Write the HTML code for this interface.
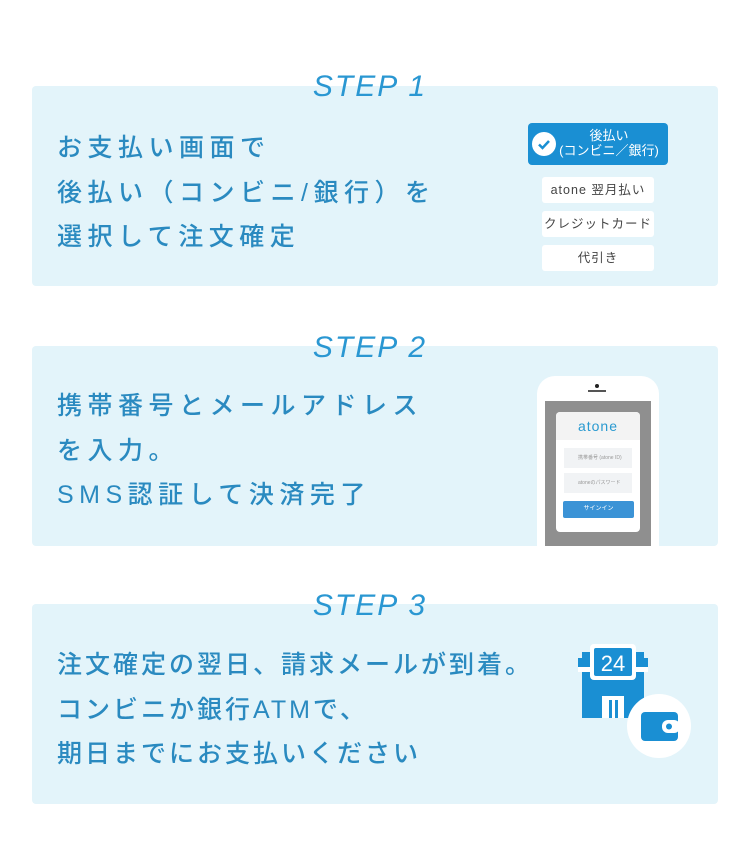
<!DOCTYPE html>
<html><head><meta charset="utf-8"><style>
*{margin:0;padding:0;box-sizing:border-box}
body{width:750px;height:841px;background:#fff;font-family:"Liberation Sans","Noto Sans CJK JP",sans-serif;position:relative;overflow:hidden}
.card{position:absolute;left:32px;width:686px;height:200px;background:#e3f4fa;border-radius:4px}
.step{position:absolute;left:0;width:740px;text-align:center;font-style:italic;color:#2a97d2;font-size:30px;letter-spacing:2px;font-weight:500}
.txt{position:absolute;left:57px;color:#2a8ac0;font-size:25px;letter-spacing:5.5px;line-height:44.5px;font-weight:500;white-space:nowrap}
.opt{position:absolute;left:542px;width:112px;height:26px;background:#fff;border-radius:3px;font-size:12.5px;color:#444;text-align:center;line-height:26px;letter-spacing:1px}
</style></head><body>
<div class="card" style="top:86px"></div>
<div class="card" style="top:346px"></div>
<div class="card" style="top:604px"></div>
<div class="step" style="top:70px">STEP 1</div>
<div class="step" style="top:331px">STEP 2</div>
<div class="step" style="top:589px">STEP 3</div>
<div class="txt" style="top:126px">お支払い画面で<br>後払い（コンビニ/銀行）を<br>選択して注文確定</div>
<div class="txt" style="top:384px">携帯番号とメールアドレス<br>を入力。<br>SMS認証して決済完了</div>
<div class="txt" style="top:643px;letter-spacing:3px">注文確定の翌日、請求メールが到着。<br>コンビニか銀行ATMで、<br>期日までにお支払いください</div>

<div style="position:absolute;left:528px;top:123px;width:140px;height:42px;background:#1a8fd3;border-radius:4px;color:#fff;text-align:center;font-size:13px;line-height:15px;padding-top:5px;padding-left:22px">後払い<br>(コンビニ／銀行)</div>
<div style="position:absolute;left:532px;top:132px;width:24px;height:24px;border-radius:50%;background:#fff"></div>
<svg style="position:absolute;left:532px;top:132px" width="24" height="24"><path d="M7 12.5l3.5 3.5 6.5-7" stroke="#1a8fd3" stroke-width="2.5" fill="none"/></svg>
<div class="opt" style="top:177px">atone 翌月払い</div>
<div class="opt" style="top:211px">クレジットカード</div>
<div class="opt" style="top:245px">代引き</div>

<div style="position:absolute;left:537px;top:376px;width:122px;height:170px;background:#fff;border-radius:18px 18px 0 0"></div>
<div style="position:absolute;left:595px;top:384px;width:4px;height:4px;border-radius:50%;background:#222"></div>
<div style="position:absolute;left:588px;top:390px;width:18px;height:2px;background:#555"></div>
<div style="position:absolute;left:545px;top:401px;width:106px;height:145px;background:#8f8f8f"></div>
<div style="position:absolute;left:556px;top:412px;width:84px;height:120px;background:#fff;border-radius:4px"></div>
<div style="position:absolute;left:556px;top:412px;width:84px;height:28px;background:#f3f3f3;border-radius:4px 4px 0 0;text-align:center;color:#2a9ad0;font-size:14px;line-height:28px;letter-spacing:1px">atone</div>
<div style="position:absolute;left:564px;top:448px;width:68px;height:20px;background:#f1f3f5;font-size:5px;color:#999;line-height:20px;padding-left:14px">携帯番号 (atone ID)</div>
<div style="position:absolute;left:564px;top:473px;width:68px;height:20px;background:#f1f3f5;font-size:5px;color:#999;line-height:20px;padding-left:14px">atoneのパスワード</div>
<div style="position:absolute;left:563px;top:501px;width:71px;height:17px;background:#3b93d6;border-radius:2px;font-size:6px;color:#fff;text-align:center;line-height:17px">サインイン</div>

<svg style="position:absolute;left:570px;top:640px" width="130" height="130">
<rect x="12" y="12" width="62" height="66" fill="#1a8fd3"/>
<rect x="8" y="18" width="70" height="9" fill="#1a8fd3"/>
<rect x="8" y="27" width="70" height="5" fill="#fff"/>
<rect x="20" y="4" width="46" height="36" rx="4" fill="#fff"/>
<rect x="24" y="8" width="38" height="28" rx="2" fill="#1a8fd3"/>
<text x="43" y="31" text-anchor="middle" font-family="Liberation Sans" font-size="22" fill="#fff">24</text>
<rect x="32" y="56" width="22" height="22" fill="#fff"/>
<rect x="39" y="60" width="3" height="18" fill="#1a8fd3"/>
<rect x="45" y="60" width="3" height="18" fill="#1a8fd3"/>
<circle cx="89" cy="86" r="32" fill="#fff"/>
<rect x="71" y="72" width="37" height="29" rx="4" fill="#1a8fd3"/>
<rect x="92" y="80" width="18" height="13" rx="6" fill="#fff"/>
<circle cx="99" cy="86.5" r="3" fill="#1a8fd3"/>
</svg>
</body></html>
